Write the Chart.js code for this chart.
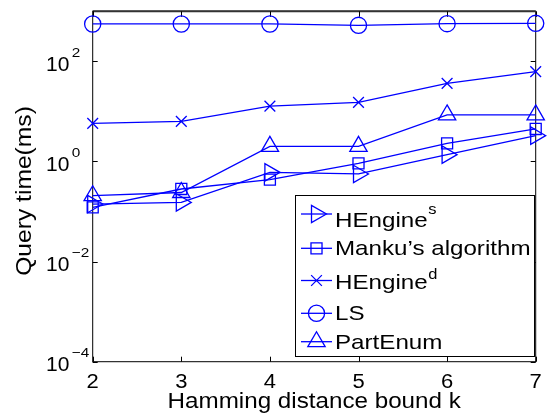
<!DOCTYPE html>
<html>
<head>
<meta charset="utf-8">
<script src="https://cdn.jsdelivr.net/npm/chart.js@4.4.1/dist/chart.umd.min.js"></script>
<style>
  html, body { margin: 0; padding: 0; background: #fff; }
  canvas { display: block; }
</style>
</head>
<body>
<canvas id="queryChart" width="547" height="418"></canvas>
<script>
// data (query time in ms, log scale)
const kValues = [2, 3, 4, 5, 6, 7];
const hengineS = [0.141, 0.152, 0.606, 0.563, 1.37, 3.28];
const manku = [0.121, 0.282, 0.433, 0.916, 2.3, 4.46];
const hengineD = [5.77, 6.33, 12.8, 15.2, 36.4, 62.3];
const lsTimes = [559, 559, 559, 524, 566, 575];
const partEnum = [0.207, 0.24, 2.0, 2.0, 8.5, 8.5];
const yTickExps = [-4, -2, 0, 2];
const legendNames = ['HEngine', 'Manku\u2019s algorithm', 'HEngine', 'LS', 'PartEnum'];
const legendSups = ['s', '', 'd', '', ''];

const FONT = "'Liberation Sans', Arial, Helvetica, sans-serif";
const BLUE = '#0000ff';

function stretchText(ctx, str, x, y, size, sx, align) {
    ctx.save();
    ctx.font = size + 'px ' + FONT;
    const w = ctx.measureText(str).width * sx;
    let x0 = x;
    if (align === 'center') x0 = x - w / 2;
    if (align === 'right') x0 = x - w;
    ctx.translate(x0, y);
    ctx.scale(sx, 1);
    ctx.textAlign = 'left';
    ctx.fillText(str, 0, 0);
    ctx.restore();
    return w;
}

const styles = [
    { style: 'triangle', rot: 90, r: 10 },
    { style: 'rect', rot: 0, r: 7.8 },
    { style: 'crossRot', rot: 0, r: 7.6 },
    { style: 'circle', rot: 0, r: 8.1 },
    { style: 'triangle', rot: 0, r: 10 }
];

function makeSet(label, values, i) {
    return {
        label: label,
        data: values,
        borderColor: BLUE,
        borderWidth: 1.3,
        pointStyle: styles[i].style,
        pointRotation: styles[i].rot,
        pointRadius: styles[i].r,
        pointBorderColor: BLUE,
        pointBackgroundColor: 'rgba(0,0,0,0)',
        pointBorderWidth: 1.3,
        tension: 0,
        clip: false
    };
}

const frame = {
    id: 'frame',
    beforeDatasetsDraw(chart) {
        const ctx = chart.ctx;
        const a = chart.chartArea;
        const xs = chart.scales.x, ys = chart.scales.y;
        ctx.save();
        ctx.strokeStyle = '#000';
        ctx.lineWidth = 1;
        ctx.strokeRect(a.left, a.top, a.right - a.left, a.bottom - a.top);
        ctx.strokeStyle = '#333';
        ctx.lineWidth = 2;
        ctx.beginPath();
        ctx.moveTo(a.left, a.top);
        ctx.lineTo(a.right, a.top);
        ctx.stroke();
        ctx.strokeStyle = '#000';
        ctx.lineWidth = 1;
        ctx.beginPath();
        kValues.forEach((k, i) => {
            const px = Math.round(xs.getPixelForValue(i)) + 0.5;
            ctx.moveTo(px, a.bottom); ctx.lineTo(px, a.bottom - 5);
            ctx.moveTo(px, a.top); ctx.lineTo(px, a.top + 5.5);
        });
        yTickExps.forEach(e => {
            const py = Math.round(ys.getPixelForValue(Math.pow(10, e))) + 0.5;
            ctx.moveTo(a.left, py); ctx.lineTo(a.left + 5, py);
            ctx.moveTo(a.right, py); ctx.lineTo(a.right - 5, py);
        });
        ctx.stroke();
        ctx.restore();
    },
    afterDatasetsDraw(chart) {
        const ctx = chart.ctx;
        const a = chart.chartArea;
        const xs = chart.scales.x, ys = chart.scales.y;
        ctx.save();
        ctx.fillStyle = '#000';
        ctx.textBaseline = 'alphabetic';

        // x tick labels
        kValues.forEach((k, i) => {
            stretchText(ctx, String(k), xs.getPixelForValue(i), a.bottom + 26.5, 20, 1.1, 'center');
        });
        // y tick labels 10^e : base at a fixed left edge, exponent after it
        yTickExps.forEach(e => {
            const py = ys.getPixelForValue(Math.pow(10, e));
            const sup = e < 0 ? '\u2212' + Math.abs(e) : String(e);
            const bw = stretchText(ctx, '10', 46, py + 9.3, 21, 1, 'left');
            stretchText(ctx, sup, 46 + bw + 2.5, py - 4.5, 13, 1.18, 'left');
        });
        // axis titles
        stretchText(ctx, 'Hamming distance bound k', (a.left + a.right) / 2, 408, 22, 1.1, 'center');
        ctx.save();
        ctx.translate(25, 191);
        ctx.rotate(-Math.PI / 2);
        ctx.textBaseline = 'middle';
        stretchText(ctx, 'Query time(ms)', 0, 0, 22, 1.12, 'center');
        ctx.restore();

        // legend box
        const bx = 295.5, by = 195.5, bw = 239, bh = 161;
        ctx.fillStyle = '#fff';
        ctx.fillRect(bx, by, bw, bh);
        ctx.strokeStyle = '#000';
        ctx.lineWidth = 1;
        ctx.strokeRect(bx, by, bw, bh);
        const markY = [214, 248.3, 280.5, 313.3, 341.7];
        const baseY = [226.5, 255, 289.3, 320, 349.3];
        const supRise = [13, 0, 10, 0, 0];
        legendNames.forEach((name, i) => {
            ctx.strokeStyle = BLUE;
            ctx.lineWidth = 1.3;
            ctx.beginPath();
            ctx.moveTo(301, markY[i]);
            ctx.lineTo(332, markY[i]);
            ctx.stroke();
            ctx.fillStyle = 'rgba(0,0,0,0)';
            Chart.helpers.drawPoint(ctx, {
                pointStyle: styles[i].style,
                rotation: styles[i].rot,
                radius: styles[i].r,
                borderWidth: 1.3
            }, 316.5, markY[i]);
            ctx.fillStyle = '#000';
            const w = stretchText(ctx, name, 335, baseY[i], 21, 1.15, 'left');
            if (legendSups[i]) {
                stretchText(ctx, legendSups[i], 335 + w + 0.5, baseY[i] - supRise[i], 15, 1.1, 'left');
            }
        });
        ctx.restore();
    }
};

const ctx = document.getElementById('queryChart').getContext('2d');
new Chart(ctx, {
    type: 'line',
    data: {
        labels: kValues,
        datasets: [
            makeSet('HEngine^s', hengineS, 0),
            makeSet('Manku\u2019s algorithm', manku, 1),
            makeSet('HEngine^d', hengineD, 2),
            makeSet('LS', lsTimes, 3),
            makeSet('PartEnum', partEnum, 4)
        ]
    },
    options: {
        responsive: false,
        devicePixelRatio: 1,
        animation: false,
        layout: { padding: { left: 0, right: 7.5, top: 10.7, bottom: 0 } },
        plugins: { legend: { display: false }, tooltip: { enabled: false } },
        scales: {
            x: {
                type: 'category',
                offset: false,
                grid: { display: false },
                border: { display: false },
                ticks: { display: false },
                afterFit(s) { s.height = 56.3; }
            },
            y: {
                type: 'logarithmic',
                min: 1e-4,
                max: 1e3,
                grid: { display: false },
                border: { display: false },
                ticks: { display: false },
                afterFit(s) { s.width = 92.7; }
            }
        }
    },
    plugins: [frame]
});
</script>
</body>
</html>
